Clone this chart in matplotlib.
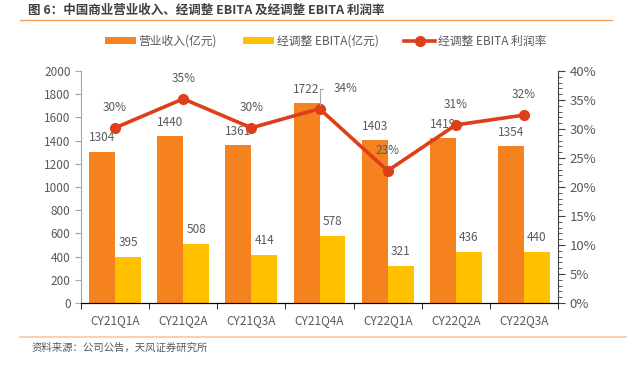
import matplotlib.pyplot as plt
from matplotlib.ticker import MultipleLocator, FuncFormatter
import numpy as np

plt.rcParams['font.family'] = ['Noto Sans CJK SC', 'DejaVu Sans']

quarters = ["CY21Q1A", "CY21Q2A", "CY21Q3A", "CY21Q4A", "CY22Q1A", "CY22Q2A", "CY22Q3A"]
revenue = [1304, 1440, 1361, 1722, 1403, 1419, 1354]
ebita = [395, 508, 414, 578, 321, 436, 440]
margin = [30.2, 35.2, 30.2, 33.5, 22.8, 30.7, 32.4]
margin_labels = ["30%", "35%", "30%", "34%", "23%", "31%", "32%"]

c_rev = "#F5821F"
c_ebita = "#FFC000"
c_line = "#DE3F1B"
c_text = "#595959"
fs = 8.5

fig = plt.figure(figsize=(6.36, 3.65), dpi=100)
ax = fig.add_axes([81 / 636, 1 - 303 / 365, (558 - 81) / 636, (303 - 71) / 365])
ax2 = ax.twinx()

x = np.arange(len(quarters))
w = 0.38
b1 = ax.bar(x - w / 2, revenue, w, color=c_rev, label="营业收入(亿元)")
b2 = ax.bar(x + w / 2, ebita, w, color=c_ebita, label="经调整 EBITA(亿元)")
ln, = ax2.plot(x, margin, color=c_line, lw=2.6, marker="o", markersize=7,
               label="经调整 EBITA 利润率")

for xi, v in zip(x, revenue):
    ax.annotate(str(v), (xi - w / 2, v), xytext=(0, 10), textcoords="offset points",
                ha="center", va="center", fontsize=fs, color=c_text)
for xi, v in zip(x, ebita):
    ax.annotate(str(v), (xi + w / 2, v), xytext=(0, 10.5), textcoords="offset points",
                ha="center", va="center", fontsize=fs, color=c_text)
for i, (xi, v, t) in enumerate(zip(x, margin, margin_labels)):
    if i == 3:
        ax2.annotate(t, (xi, v), xytext=(19, 14.5), textcoords="offset points",
                     ha="center", va="center", fontsize=fs, color=c_text,
                     arrowprops=dict(arrowstyle="-", color="#A6A6A6", lw=0.8,
                                     shrinkA=6, shrinkB=3,
                                     connectionstyle="angle,angleA=0,angleB=90"))
    else:
        ax2.annotate(t, (xi, v), xytext=(0, 14.5), textcoords="offset points",
                     ha="center", va="center", fontsize=fs, color=c_text)

ax.set_xlim(-0.5, len(quarters) - 0.5)
ax.set_ylim(0, 2000)
ax.set_yticks(range(0, 2001, 200))
ax2.set_ylim(0, 40)
ax2.yaxis.set_major_locator(MultipleLocator(5))
ax2.yaxis.set_minor_locator(MultipleLocator(1))
ax2.yaxis.set_major_formatter(FuncFormatter(lambda v, p: f"{v:.0f}%"))

ax.set_xticks(x)
ax.set_xticklabels(quarters)
ax.set_xticks(np.arange(-0.5, len(quarters)), minor=True)
ax.tick_params(axis="x", which="major", length=0, pad=8, labelsize=fs, labelcolor=c_text)
ax.tick_params(axis="x", which="minor", length=4, direction="out", color="black")
ax.tick_params(axis="y", length=4, color="#A6A6A6", labelsize=fs, labelcolor=c_text)
ax2.tick_params(axis="y", which="major", length=5, color="#404040", labelsize=fs + 1,
                labelcolor=c_text)
ax2.tick_params(axis="y", which="minor", length=3, color="#404040")

for a in (ax, ax2):
    a.spines["top"].set_visible(False)
    a.spines["left"].set_color("#A6A6A6")
    a.spines["right"].set_color("#404040")
    a.spines["bottom"].set_color("black")
ax.spines["right"].set_visible(False)
ax2.spines["left"].set_visible(False)

handles = [b1, b2, ln]
fig.legend(handles, [h.get_label() for h in handles], ncol=3, loc="center",
           bbox_to_anchor=(0.512, 1 - 41 / 365), frameon=False, fontsize=fs,
           handlelength=2.6, handleheight=0.5, handletextpad=0.25,
           columnspacing=2.2, labelcolor=c_text)

fig.text(28 / 636, 1 - 10 / 365, "图 6：中国商业营业收入、经调整 EBITA 及经调整 EBITA 利润率",
         fontsize=9, fontweight="bold", color="#404040", ha="left", va="center")
fig.add_artist(plt.Line2D([20 / 636, 612 / 636], [1 - 20 / 365, 1 - 20 / 365],
                          color="#F5A05A", lw=1, transform=fig.transFigure))
fig.add_artist(plt.Line2D([20 / 636, 626 / 636], [1 - 337 / 365, 1 - 337 / 365],
                          color="#F8C8A0", lw=1.2, transform=fig.transFigure))
fig.text(32 / 636, 1 - 348 / 365, "资料来源：公司公告，天风证券研究所",
         fontsize=7.5, color=c_text, ha="left", va="center")

plt.savefig("out.png", dpi=100)
